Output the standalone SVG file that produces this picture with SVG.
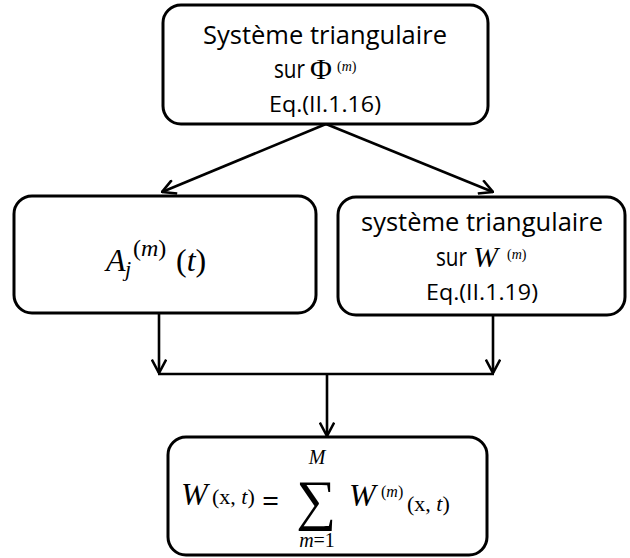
<svg xmlns="http://www.w3.org/2000/svg" width="630" height="558" viewBox="0 0 630 558">
<defs>
<style>
.box{fill:#fff;stroke:#000;stroke-width:3}
.ln{fill:none;stroke:#000;stroke-width:2.6}
.t{font-family:"Open Sans","Liberation Sans",sans-serif;fill:#000}
.m{font-family:"Liberation Serif","DejaVu Serif",serif;fill:#000}
.i{font-style:italic}
</style>
<marker id="ah" viewBox="0 0 16 16" refX="15" refY="8" markerWidth="16" markerHeight="16" markerUnits="userSpaceOnUse" orient="auto">
<path d="M1.5,0.8 L15,8 L1.5,15.2" fill="none" stroke="#000" stroke-width="2.6"/>
</marker>
</defs>
<rect width="630" height="558" fill="#fff"/>
<g id="connectors">
<line class="ln" x1="326" y1="124" x2="162" y2="192" marker-end="url(#ah)"/>
<line class="ln" x1="326" y1="124" x2="493" y2="192" marker-end="url(#ah)"/>
<line class="ln" x1="159" y1="313" x2="159" y2="373" marker-end="url(#ah)"/>
<line class="ln" x1="493" y1="315" x2="493" y2="373" marker-end="url(#ah)"/>
<line class="ln" x1="158" y1="374" x2="494" y2="374"/>
<line class="ln" x1="327" y1="374" x2="327" y2="436" marker-end="url(#ah)"/>
</g>
<g id="n1">
<rect class="box" x="163" y="5" width="325" height="119" rx="18"/>
<text class="t" x="325" y="44" font-size="25" text-anchor="middle" textLength="244" lengthAdjust="spacingAndGlyphs">Système triangulaire</text>
<text class="t" x="274" y="78" font-size="25" textLength="31" lengthAdjust="spacingAndGlyphs">sur</text>
<text class="m" x="310" y="79" font-size="30">Φ</text>
<text class="m" x="337" y="71" font-size="14">(<tspan class="i">m</tspan>)</text>
<text class="t" x="325" y="112" font-size="22" text-anchor="middle" textLength="112" lengthAdjust="spacingAndGlyphs">Eq.(II.1.16)</text>
</g>
<g id="n2">
<rect class="box" x="14" y="196" width="302" height="117" rx="18"/>
<text class="m i" x="106" y="271" font-size="32">A</text>
<text class="m i" x="125" y="276" font-size="22">j</text>
<text class="m" x="133" y="256" font-size="24">(<tspan class="i">m</tspan>)</text>
<text class="m" x="176" y="271" font-size="32">(<tspan class="i">t</tspan>)</text>
</g>
<g id="n3">
<rect class="box" x="338" y="197" width="287" height="118" rx="18"/>
<text class="t" x="482" y="231" font-size="25" text-anchor="middle" textLength="242" lengthAdjust="spacingAndGlyphs">système triangulaire</text>
<text class="t" x="436" y="266" font-size="25" textLength="31" lengthAdjust="spacingAndGlyphs">sur</text>
<text class="m i" x="473" y="267" font-size="30">W</text>
<text class="m" x="507" y="259" font-size="14">(<tspan class="i">m</tspan>)</text>
<text class="t" x="482" y="300" font-size="22" text-anchor="middle" textLength="112" lengthAdjust="spacingAndGlyphs">Eq.(II.1.19)</text>
</g>
<g id="n4">
<rect class="box" x="168" y="437" width="319" height="118" rx="18"/>
<text class="m i" x="181" y="505" font-size="32">W</text>
<text class="m" x="212" y="504" font-size="22">(x, <tspan class="i">t</tspan>)</text>
<text class="t" x="262" y="511" font-size="30">=</text>
<text class="m" x="296" y="519" font-size="56">∑</text>
<text class="m i" x="317" y="464" font-size="20" text-anchor="middle">M</text>
<text class="m" x="317" y="547" font-size="20" text-anchor="middle"><tspan class="i">m</tspan>=1</text>
<text class="m i" x="349" y="506" font-size="32">W</text>
<text class="m" x="381" y="497" font-size="16">(<tspan class="i">m</tspan>)</text>
<text class="m" x="407" y="511" font-size="22">(x, <tspan class="i">t</tspan>)</text>
</g>
</svg>
